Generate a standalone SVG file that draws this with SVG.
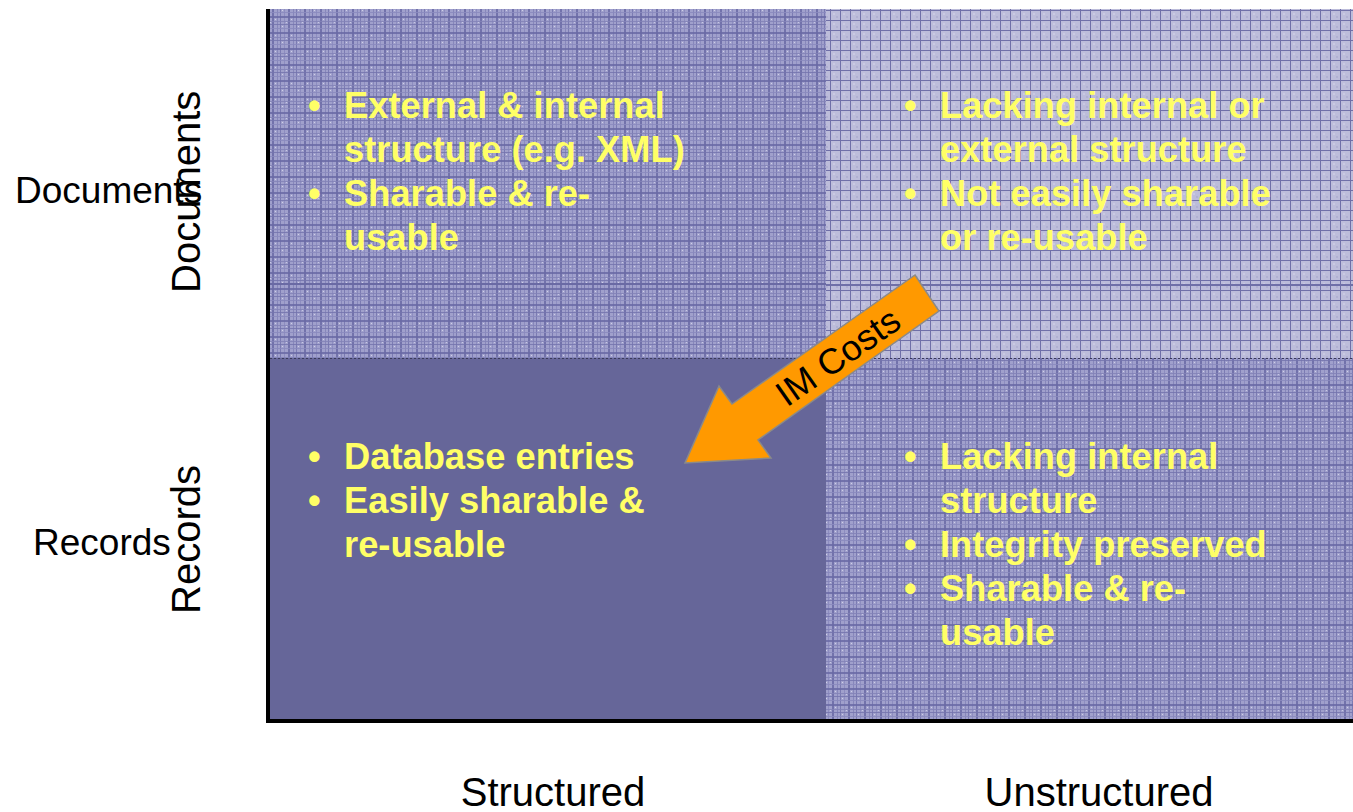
<svg xmlns="http://www.w3.org/2000/svg" width="1353" height="812" viewBox="0 0 1353 812">
<style>
.lbl{font-family:"Liberation Sans",Arial,sans-serif;fill:#000}
.item{font-family:"Liberation Sans",Arial,sans-serif;font-weight:bold;font-size:36.3px;fill:#FFFF66}
</style>
<defs>
<pattern id="plaid" width="16" height="16" patternUnits="userSpaceOnUse">
<rect width="16" height="16" fill="#a0a0cc"/>
<rect x="0" y="0" width="2" height="16" fill="#6a6aa6" opacity="0.85"/>
<rect x="5" y="0" width="1" height="16" fill="#8282b8" opacity="0.85"/>
<rect x="8" y="0" width="1" height="16" fill="#7474ae" opacity="0.85"/>
<rect x="12" y="0" width="1" height="16" fill="#8a8abe" opacity="0.85"/>
<rect x="0" y="0" width="16" height="2" fill="#6a6aa6" opacity="0.85"/>
<rect x="0" y="5" width="16" height="1" fill="#8282b8" opacity="0.85"/>
<rect x="0" y="8" width="16" height="1" fill="#7474ae" opacity="0.85"/>
<rect x="0" y="12" width="16" height="1" fill="#8a8abe" opacity="0.85"/>
<rect x="3" y="3" width="1" height="1" fill="#d0d0e8"/>
<rect x="10" y="10" width="1" height="1" fill="#d0d0e8"/>
<rect x="14" y="6" width="1" height="1" fill="#c8c8e4"/>
</pattern>
<pattern id="grid" width="10" height="10" patternUnits="userSpaceOnUse">
<rect width="10" height="10" fill="#bcbcda"/>
<rect x="3" y="3" width="2" height="2" fill="#c9c9e2"/>
<rect x="6" y="6" width="2" height="2" fill="#b0b0d2"/>
<rect x="0" y="0" width="1" height="10" fill="#6f6fa8"/>
<rect x="0" y="0" width="10" height="1" fill="#6f6fa8"/>
</pattern>
</defs>
<rect width="1353" height="812" fill="#ffffff"/>

<g id="quadrant-structured-documents">
<rect x="270" y="9" width="556" height="349" fill="url(#plaid)"/>
<rect x="270" y="283" width="556" height="2" fill="#6a6aa4"/>
<text class="item" x="308" y="118">•</text>
<text class="item" x="344" y="118">External &amp; internal</text>
<text class="item" x="344" y="162">structure (e.g. XML)</text>
<text class="item" x="308" y="206">•</text>
<text class="item" x="344" y="206">Sharable &amp; re-</text>
<text class="item" x="344" y="250">usable</text>
</g>

<g id="quadrant-unstructured-documents">
<rect x="826" y="9" width="527" height="349" fill="url(#grid)"/>
<rect x="826" y="284" width="527" height="2" fill="#7070a8"/>
<text class="item" x="904" y="118">•</text>
<text class="item" x="940" y="118">Lacking internal or</text>
<text class="item" x="940" y="162">external structure</text>
<text class="item" x="904" y="206">•</text>
<text class="item" x="940" y="206">Not easily sharable</text>
<text class="item" x="940" y="250">or re-usable</text>
</g>

<g id="quadrant-structured-records">
<rect x="270" y="358" width="556" height="361" fill="#666699"/>
<text class="item" x="308" y="469">•</text>
<text class="item" x="344" y="469">Database entries</text>
<text class="item" x="308" y="513">•</text>
<text class="item" x="344" y="513">Easily sharable &amp;</text>
<text class="item" x="344" y="557">re-usable</text>
</g>

<g id="quadrant-unstructured-records">
<rect x="826" y="358" width="527" height="361" fill="url(#plaid)"/>
<text class="item" x="904" y="469">•</text>
<text class="item" x="940" y="469">Lacking internal</text>
<text class="item" x="940" y="513">structure</text>
<text class="item" x="904" y="557">•</text>
<text class="item" x="940" y="557">Integrity preserved</text>
<text class="item" x="904" y="601">•</text>
<text class="item" x="940" y="601">Sharable &amp; re-</text>
<text class="item" x="940" y="645">usable</text>
</g>

<line x1="270" y1="358.5" x2="1353" y2="358.5" stroke="#3a3a5a" stroke-width="1" stroke-dasharray="2,2"/>

<g id="axes">
<line x1="268" y1="9" x2="268" y2="723" stroke="#000" stroke-width="4"/>
<line x1="266" y1="721" x2="1353" y2="721" stroke="#000" stroke-width="4"/>
</g>

<g id="axis-labels">
<text class="lbl" x="15" y="203" font-size="37">Documents</text>
<text class="lbl" x="33" y="555" font-size="37">Records</text>
<text class="lbl" font-size="40" transform="translate(200,293) rotate(-90)">Documents</text>
<text class="lbl" font-size="40" transform="translate(200,614) rotate(-90)">Records</text>
<text class="lbl" x="553" y="806" font-size="40" text-anchor="middle">Structured</text>
<text class="lbl" x="1099" y="806" font-size="40" text-anchor="middle">Unstructured</text>
</g>

<g id="connectors">
<g id="im-costs-arrow">
<polygon points="915,275 939,311 758,440 771,458 685,463 719,386 732,404" fill="#FF9900" stroke="#8a8a8a" stroke-width="1.5" stroke-linejoin="miter"/>
<text class="lbl" font-size="36" text-anchor="middle" transform="translate(845,367) rotate(-35)">IM Costs</text>
</g>
</g>
</svg>
